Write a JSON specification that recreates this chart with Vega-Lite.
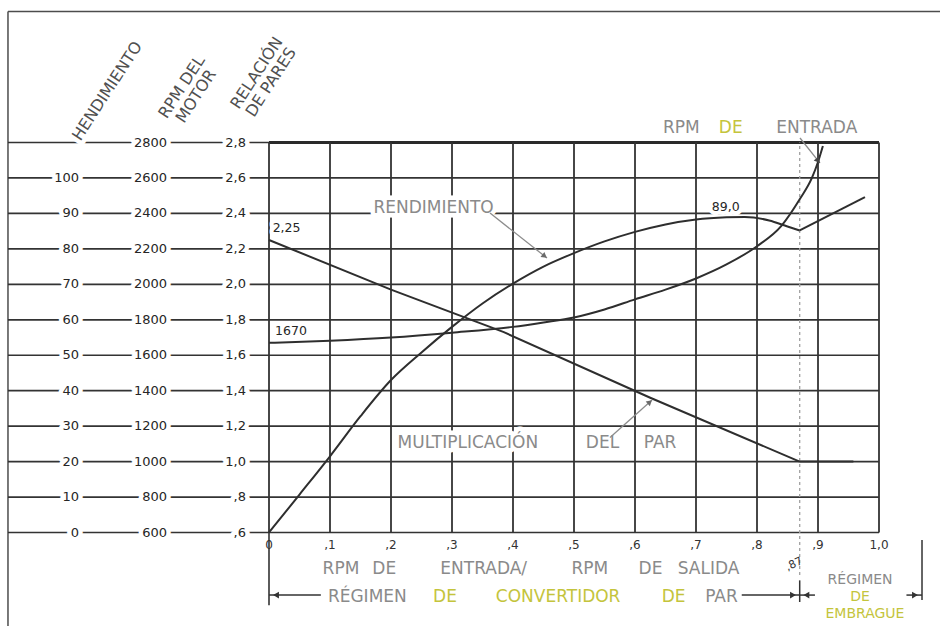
{
  "$schema": "https://vega.github.io/schema/vega-lite/v6.json",
  "width": 940,
  "height": 626,
  "padding": 0,
  "autosize": {"type": "none"},
  "background": "#ffffff",
  "config": {"view": {"stroke": null}, "text": {"font": "DejaVu Sans"}},
  "datasets": {
    "filas": [
      {"r": 0.6, "rend": "0", "rpm": "600", "rel": ",6"},
      {"r": 0.8, "rend": "10", "rpm": "800", "rel": ",8"},
      {"r": 1.0, "rend": "20", "rpm": "1000", "rel": "1,0"},
      {"r": 1.2, "rend": "30", "rpm": "1200", "rel": "1,2"},
      {"r": 1.4, "rend": "40", "rpm": "1400", "rel": "1,4"},
      {"r": 1.6, "rend": "50", "rpm": "1600", "rel": "1,6"},
      {"r": 1.8, "rend": "60", "rpm": "1800", "rel": "1,8"},
      {"r": 2.0, "rend": "70", "rpm": "2000", "rel": "2,0"},
      {"r": 2.2, "rend": "80", "rpm": "2200", "rel": "2,2"},
      {"r": 2.4, "rend": "90", "rpm": "2400", "rel": "2,4"},
      {"r": 2.6, "rend": "100", "rpm": "2600", "rel": "2,6"},
      {"r": 2.8, "rend": "", "rpm": "2800", "rel": "2,8"}
    ],
    "divisiones_x": [
      {"x": 0, "t": "0"}, {"x": 0.1, "t": ",1"}, {"x": 0.2, "t": ",2"},
      {"x": 0.3, "t": ",3"}, {"x": 0.4, "t": ",4"}, {"x": 0.5, "t": ",5"},
      {"x": 0.6, "t": ",6"}, {"x": 0.7, "t": ",7"}, {"x": 0.8, "t": ",8"},
      {"x": 0.9, "t": ",9"}, {"x": 1.0, "t": "1,0"}
    ],
    "titulos_ejes": [
      {"x": -0.265, "r": 3.09, "t": "HENDIMIENTO"},
      {"x": -0.143, "r": 3.113, "t": "RPM DEL\nMOTOR"},
      {"x": -0.02, "r": 3.192, "t": "RELACIÓN\nDE PARES"}
    ],
    "rotulos_grises": [
      {"x": 0.118, "r": 0.394, "t": "RPM"},
      {"x": 0.189, "r": 0.394, "t": "DE"},
      {"x": 0.352, "r": 0.394, "t": "ENTRADA/"},
      {"x": 0.526, "r": 0.394, "t": "RPM"},
      {"x": 0.6254, "r": 0.394, "t": "DE"},
      {"x": 0.7205, "r": 0.394, "t": "SALIDA"},
      {"x": 0.1612, "r": 0.238, "t": "RÉGIMEN"},
      {"x": 0.7418, "r": 0.238, "t": "PAR"},
      {"x": 0.676, "r": 2.882, "t": "RPM"},
      {"x": 0.898, "r": 2.882, "t": "ENTRADA"},
      {"x": 0.2697, "r": 2.43, "t": "RENDIMIENTO"},
      {"x": 0.326, "r": 1.105, "t": "MULTIPLICACIÓN"},
      {"x": 0.5467, "r": 1.105, "t": "DEL"},
      {"x": 0.641, "r": 1.105, "t": "PAR"}
    ],
    "rotulos_amarillos": [
      {"x": 0.2885, "r": 0.238, "t": "DE"},
      {"x": 0.474, "r": 0.238, "t": "CONVERTIDOR"},
      {"x": 0.6633, "r": 0.238, "t": "DE"},
      {"x": 0.757, "r": 2.882, "t": "DE"}
    ],
    "embrague_gris": [{"x": 0.969, "r": 0.33, "t": "RÉGIMEN"}],
    "embrague_amarillo": [
      {"x": 0.969, "r": 0.236, "t": "DE"},
      {"x": 0.977, "r": 0.142, "t": "EMBRAGUE"}
    ],
    "valores": [
      {"x": 0.006, "r": 2.318, "t": "2,25"},
      {"x": 0.01, "r": 1.735, "t": "1670"},
      {"x": 0.726, "r": 2.436, "t": "89,0"}
    ],
    "marca_087": [{"x": 0.861, "r": 0.421, "t": ",87"}],
    "corchete": [
      {"desde": 0, "hasta": 0.085},
      {"desde": 0.775, "hasta": 0.87},
      {"desde": 0.87, "hasta": 0.895},
      {"desde": 1.045, "hasta": 1.0705}
    ],
    "puntas": [
      {"x": 0.0115, "lado": "izquierda"},
      {"x": 0.859, "lado": "derecha"},
      {"x": 0.881, "lado": "izquierda"},
      {"x": 1.059, "lado": "derecha"}
    ],
    "flechas": [
      {"x": 0.3623, "r": 2.4023, "x2": 0.4557, "r2": 2.1485},
      {"x": 0.559, "r": 1.136, "x2": 0.628, "r2": 1.3475},
      {"x": 0.8705, "r": 2.8255, "x2": 0.9033, "r2": 2.684}
    ],
    "verticales": [
      {"x": 0}, {"x": 0.1}, {"x": 0.2}, {"x": 0.3}, {"x": 0.4}, {"x": 0.5},
      {"x": 0.6}, {"x": 0.7}, {"x": 0.8}, {"x": 0.9}, {"x": 1.0}
    ],
    "rendimiento": [
      {"x": 0, "rend": 0, "tramo": "convertidor"},
      {"x": 0.05, "rend": 10.7, "tramo": "convertidor"},
      {"x": 0.1, "rend": 21.5, "tramo": "convertidor"},
      {"x": 0.15, "rend": 32.8, "tramo": "convertidor"},
      {"x": 0.2, "rend": 43.0, "tramo": "convertidor"},
      {"x": 0.25, "rend": 50.8, "tramo": "convertidor"},
      {"x": 0.3, "rend": 58.0, "tramo": "convertidor"},
      {"x": 0.35, "rend": 64.6, "tramo": "convertidor"},
      {"x": 0.4, "rend": 70.2, "tramo": "convertidor"},
      {"x": 0.45, "rend": 75.0, "tramo": "convertidor"},
      {"x": 0.5, "rend": 78.8, "tramo": "convertidor"},
      {"x": 0.55, "rend": 82.1, "tramo": "convertidor"},
      {"x": 0.6, "rend": 84.8, "tramo": "convertidor"},
      {"x": 0.65, "rend": 86.9, "tramo": "convertidor"},
      {"x": 0.7, "rend": 88.3, "tramo": "convertidor"},
      {"x": 0.75, "rend": 88.9, "tramo": "convertidor"},
      {"x": 0.78, "rend": 89.0, "tramo": "convertidor"},
      {"x": 0.82, "rend": 88.0, "tramo": "convertidor"},
      {"x": 0.85, "rend": 86.3, "tramo": "convertidor"},
      {"x": 0.87, "rend": 85.2, "tramo": "convertidor"},
      {"x": 0.87, "rend": 85.2, "tramo": "embrague"},
      {"x": 0.977, "rend": 94.6, "tramo": "embrague"}
    ],
    "rpm_entrada": [
      {"x": 0, "rpm": 1670}, {"x": 0.1, "rpm": 1682}, {"x": 0.2, "rpm": 1700},
      {"x": 0.3, "rpm": 1727}, {"x": 0.4, "rpm": 1760}, {"x": 0.45, "rpm": 1785},
      {"x": 0.5, "rpm": 1813}, {"x": 0.55, "rpm": 1858}, {"x": 0.6, "rpm": 1915},
      {"x": 0.65, "rpm": 1970}, {"x": 0.7, "rpm": 2033}, {"x": 0.75, "rpm": 2112},
      {"x": 0.8, "rpm": 2215}, {"x": 0.84, "rpm": 2330}, {"x": 0.87, "rpm": 2480},
      {"x": 0.89, "rpm": 2600}, {"x": 0.9, "rpm": 2690}, {"x": 0.908, "rpm": 2780}
    ],
    "par": [
      {"x": 0, "r": 2.25, "tramo": "convertidor"},
      {"x": 0.2, "r": 1.97, "tramo": "convertidor"},
      {"x": 0.385, "r": 1.73, "tramo": "convertidor"},
      {"x": 0.625, "r": 1.36, "tramo": "convertidor"},
      {"x": 0.87, "r": 1.0, "tramo": "convertidor"},
      {"x": 0.87, "r": 1.0, "tramo": "embrague"},
      {"x": 0.958, "r": 1.0, "tramo": "embrague"}
    ]
  },
  "resolve": {"scale": {"y": "independent"}},
  "layer": [
    {
      "layer": [
        {
          "data": {"values": [{}]},
          "mark": {"type": "rule", "stroke": "#4d4d4d", "strokeWidth": 1.5},
          "encoding": {
            "x": {"datum": -0.4279, "type": "quantitative", "scale": {"domain": [-0.44098, 1.1], "nice": false, "zero": false}, "axis": null},
            "x2": {"datum": 1.1},
            "y": {"datum": 3.539, "type": "quantitative", "scale": {"domain": [0.07256, 3.60389], "nice": false, "zero": false}, "axis": null}
          }
        },
        {
          "data": {"values": [{}]},
          "mark": {"type": "rule", "stroke": "#4d4d4d", "strokeWidth": 1.5},
          "encoding": {
            "x": {"datum": -0.4279, "type": "quantitative", "scale": {"domain": [-0.44098, 1.1], "nice": false, "zero": false}, "axis": null},
            "y": {"datum": 0.07256, "type": "quantitative", "scale": {"domain": [0.07256, 3.60389], "nice": false, "zero": false}, "axis": null},
            "y2": {"datum": 3.539}
          }
        },
        {
          "data": {"name": "filas"},
          "mark": {"type": "rule", "stroke": "#333333", "strokeWidth": 1.7},
          "encoding": {
            "x": {"datum": -0.4279, "type": "quantitative", "scale": {"domain": [-0.44098, 1.1], "nice": false, "zero": false}, "axis": null},
            "x2": {"datum": 1.0},
            "y": {"field": "r", "type": "quantitative", "scale": {"domain": [0.07256, 3.60389], "nice": false, "zero": false}, "axis": null}
          }
        },
        {
          "data": {"values": [{}]},
          "mark": {"type": "rule", "stroke": "#2a2a2a", "strokeWidth": 3},
          "encoding": {
            "x": {"datum": 0, "type": "quantitative", "scale": {"domain": [-0.44098, 1.1], "nice": false, "zero": false}, "axis": null},
            "x2": {"datum": 1.0},
            "y": {"datum": 2.8, "type": "quantitative", "scale": {"domain": [0.07256, 3.60389], "nice": false, "zero": false}, "axis": null}
          }
        },
        {
          "data": {"name": "verticales"},
          "mark": {"type": "rule", "stroke": "#333333", "strokeWidth": 1.8},
          "encoding": {
            "x": {"field": "x", "type": "quantitative", "scale": {"domain": [-0.44098, 1.1], "nice": false, "zero": false}, "axis": null},
            "y": {"datum": 0.6, "type": "quantitative", "scale": {"domain": [0.07256, 3.60389], "nice": false, "zero": false}, "axis": null},
            "y2": {"datum": 2.8}
          }
        },
        {
          "data": {"values": [{}]},
          "mark": {"type": "rule", "stroke": "#333333", "strokeWidth": 1.6},
          "encoding": {
            "x": {"datum": 0, "type": "quantitative", "scale": {"domain": [-0.44098, 1.1], "nice": false, "zero": false}, "axis": null},
            "y": {"datum": 0.19, "type": "quantitative", "scale": {"domain": [0.07256, 3.60389], "nice": false, "zero": false}, "axis": null},
            "y2": {"datum": 0.6}
          }
        },
        {
          "data": {"values": [{}]},
          "mark": {"type": "rule", "stroke": "#a0a0a0", "strokeWidth": 1.3, "strokeDash": [3, 3]},
          "encoding": {
            "x": {"datum": 0.87, "type": "quantitative", "scale": {"domain": [-0.44098, 1.1], "nice": false, "zero": false}, "axis": null},
            "y": {"datum": 0.36, "type": "quantitative", "scale": {"domain": [0.07256, 3.60389], "nice": false, "zero": false}, "axis": null},
            "y2": {"datum": 2.8}
          }
        },
        {
          "data": {"values": [{}]},
          "mark": {"type": "rule", "stroke": "#333333", "strokeWidth": 1.5},
          "encoding": {
            "x": {"datum": 0.87, "type": "quantitative", "scale": {"domain": [-0.44098, 1.1], "nice": false, "zero": false}, "axis": null},
            "y": {"datum": 0.208, "type": "quantitative", "scale": {"domain": [0.07256, 3.60389], "nice": false, "zero": false}, "axis": null},
            "y2": {"datum": 0.33}
          }
        },
        {
          "data": {"values": [{}]},
          "mark": {"type": "rule", "stroke": "#333333", "strokeWidth": 1.5},
          "encoding": {
            "x": {"datum": 1.0705, "type": "quantitative", "scale": {"domain": [-0.44098, 1.1], "nice": false, "zero": false}, "axis": null},
            "y": {"datum": 0.219, "type": "quantitative", "scale": {"domain": [0.07256, 3.60389], "nice": false, "zero": false}, "axis": null},
            "y2": {"datum": 0.557}
          }
        },
        {
          "data": {"name": "corchete"},
          "mark": {"type": "rule", "stroke": "#333333", "strokeWidth": 1.5},
          "encoding": {
            "x": {"field": "desde", "type": "quantitative", "scale": {"domain": [-0.44098, 1.1], "nice": false, "zero": false}, "axis": null},
            "x2": {"field": "hasta"},
            "y": {"datum": 0.247, "type": "quantitative", "scale": {"domain": [0.07256, 3.60389], "nice": false, "zero": false}, "axis": null}
          }
        },
        {
          "data": {"name": "filas"},
          "mark": {"type": "text", "align": "right", "baseline": "middle", "fontSize": 13, "fill": "#ffffff", "stroke": "#ffffff", "strokeWidth": 9, "strokeJoin": "round"},
          "encoding": {
            "x": {"datum": -0.3115, "type": "quantitative", "scale": {"domain": [-0.44098, 1.1], "nice": false, "zero": false}, "axis": null},
            "y": {"field": "r", "type": "quantitative", "scale": {"domain": [0.07256, 3.60389], "nice": false, "zero": false}, "axis": null},
            "text": {"field": "rend"}
          }
        },
        {
          "data": {"name": "filas"},
          "mark": {"type": "text", "align": "right", "baseline": "middle", "fontSize": 13, "fill": "#ffffff", "stroke": "#ffffff", "strokeWidth": 9, "strokeJoin": "round"},
          "encoding": {
            "x": {"datum": -0.1672, "type": "quantitative", "scale": {"domain": [-0.44098, 1.1], "nice": false, "zero": false}, "axis": null},
            "y": {"field": "r", "type": "quantitative", "scale": {"domain": [0.07256, 3.60389], "nice": false, "zero": false}, "axis": null},
            "text": {"field": "rpm"}
          }
        },
        {
          "data": {"name": "filas"},
          "mark": {"type": "text", "align": "right", "baseline": "middle", "fontSize": 13, "fill": "#ffffff", "stroke": "#ffffff", "strokeWidth": 9, "strokeJoin": "round"},
          "encoding": {
            "x": {"datum": -0.0377, "type": "quantitative", "scale": {"domain": [-0.44098, 1.1], "nice": false, "zero": false}, "axis": null},
            "y": {"field": "r", "type": "quantitative", "scale": {"domain": [0.07256, 3.60389], "nice": false, "zero": false}, "axis": null},
            "text": {"field": "rel"}
          }
        },
        {
          "data": {"name": "titulos_ejes"},
          "mark": {"type": "text", "align": "center", "baseline": "middle", "fontSize": 16, "angle": -57, "lineBreak": "\n", "lineHeight": 17, "fill": "#ffffff", "stroke": "#ffffff", "strokeWidth": 9, "strokeJoin": "round"},
          "encoding": {
            "x": {"field": "x", "type": "quantitative", "scale": {"domain": [-0.44098, 1.1], "nice": false, "zero": false}, "axis": null},
            "y": {"field": "r", "type": "quantitative", "scale": {"domain": [0.07256, 3.60389], "nice": false, "zero": false}, "axis": null},
            "text": {"field": "t"}
          }
        },
        {
          "data": {"name": "rotulos_grises"},
          "mark": {"type": "text", "align": "center", "baseline": "middle", "fontSize": 17, "fill": "#ffffff", "stroke": "#ffffff", "strokeWidth": 9, "strokeJoin": "round"},
          "encoding": {
            "x": {"field": "x", "type": "quantitative", "scale": {"domain": [-0.44098, 1.1], "nice": false, "zero": false}, "axis": null},
            "y": {"field": "r", "type": "quantitative", "scale": {"domain": [0.07256, 3.60389], "nice": false, "zero": false}, "axis": null},
            "text": {"field": "t"}
          }
        },
        {
          "data": {"name": "valores"},
          "mark": {"type": "text", "align": "left", "baseline": "middle", "fontSize": 12.5, "fill": "#ffffff", "stroke": "#ffffff", "strokeWidth": 8, "strokeJoin": "round"},
          "encoding": {
            "x": {"field": "x", "type": "quantitative", "scale": {"domain": [-0.44098, 1.1], "nice": false, "zero": false}, "axis": null},
            "y": {"field": "r", "type": "quantitative", "scale": {"domain": [0.07256, 3.60389], "nice": false, "zero": false}, "axis": null},
            "text": {"field": "t"}
          }
        }
      ]
    },
    {
      "data": {"name": "rendimiento"},
      "mark": {"type": "line", "stroke": "#2e2e2e", "strokeWidth": 2, "interpolate": "monotone"},
      "encoding": {
        "x": {"field": "x", "type": "quantitative", "scale": {"domain": [-0.44098, 1.1], "nice": false, "zero": false}, "axis": null},
        "y": {"field": "rend", "type": "quantitative", "scale": {"domain": [-26.372, 150.1945], "nice": false, "zero": false}, "axis": null},
        "detail": {"field": "tramo"}
      }
    },
    {
      "data": {"name": "rpm_entrada"},
      "mark": {"type": "line", "stroke": "#2e2e2e", "strokeWidth": 2, "interpolate": "monotone"},
      "encoding": {
        "x": {"field": "x", "type": "quantitative", "scale": {"domain": [-0.44098, 1.1], "nice": false, "zero": false}, "axis": null},
        "y": {"field": "rpm", "type": "quantitative", "scale": {"domain": [72.56, 3603.89], "nice": false, "zero": false}, "axis": null}
      }
    },
    {
      "layer": [
        {
          "data": {"name": "par"},
          "mark": {"type": "line", "stroke": "#2e2e2e", "strokeWidth": 2},
          "encoding": {
            "x": {"field": "x", "type": "quantitative", "scale": {"domain": [-0.44098, 1.1], "nice": false, "zero": false}, "axis": null},
            "y": {"field": "r", "type": "quantitative", "scale": {"domain": [0.07256, 3.60389], "nice": false, "zero": false}, "axis": null},
            "detail": {"field": "tramo"}
          }
        },
        {
          "data": {"name": "flechas"},
          "mark": {"type": "rule", "stroke": "#8c8c8c", "strokeWidth": 1.3},
          "encoding": {
            "x": {"field": "x", "type": "quantitative", "scale": {"domain": [-0.44098, 1.1], "nice": false, "zero": false}, "axis": null},
            "y": {"field": "r", "type": "quantitative", "scale": {"domain": [0.07256, 3.60389], "nice": false, "zero": false}, "axis": null},
            "x2": {"field": "x2"},
            "y2": {"field": "r2"}
          }
        },
        {
          "data": {"values": [{}]},
          "mark": {"type": "point", "shape": "triangle-up", "filled": true, "size": 40, "color": "#6a6a6a", "opacity": 1, "angle": 128},
          "encoding": {
            "x": {"datum": 0.4518, "type": "quantitative", "scale": {"domain": [-0.44098, 1.1], "nice": false, "zero": false}, "axis": null},
            "y": {"datum": 2.159, "type": "quantitative", "scale": {"domain": [0.07256, 3.60389], "nice": false, "zero": false}, "axis": null}
          }
        },
        {
          "data": {"values": [{}]},
          "mark": {"type": "point", "shape": "triangle-up", "filled": true, "size": 40, "color": "#6a6a6a", "opacity": 1, "angle": 49},
          "encoding": {
            "x": {"datum": 0.6243, "type": "quantitative", "scale": {"domain": [-0.44098, 1.1], "nice": false, "zero": false}, "axis": null},
            "y": {"datum": 1.3363, "type": "quantitative", "scale": {"domain": [0.07256, 3.60389], "nice": false, "zero": false}, "axis": null}
          }
        },
        {
          "data": {"values": [{}]},
          "mark": {"type": "point", "shape": "triangle-up", "filled": true, "size": 45, "color": "#444444", "opacity": 1, "angle": 141},
          "encoding": {
            "x": {"datum": 0.9002, "type": "quantitative", "scale": {"domain": [-0.44098, 1.1], "nice": false, "zero": false}, "axis": null},
            "y": {"datum": 2.697, "type": "quantitative", "scale": {"domain": [0.07256, 3.60389], "nice": false, "zero": false}, "axis": null}
          }
        },
        {
          "data": {"name": "puntas"},
          "mark": {"type": "point", "filled": true, "size": 45, "color": "#333333", "opacity": 1},
          "encoding": {
            "x": {"field": "x", "type": "quantitative", "scale": {"domain": [-0.44098, 1.1], "nice": false, "zero": false}, "axis": null},
            "y": {"datum": 0.247, "type": "quantitative", "scale": {"domain": [0.07256, 3.60389], "nice": false, "zero": false}, "axis": null},
            "shape": {"field": "lado", "type": "nominal", "scale": {"domain": ["izquierda", "derecha"], "range": ["triangle-left", "triangle-right"]}, "legend": null}
          }
        },
        {
          "data": {"name": "filas"},
          "mark": {"type": "text", "align": "right", "baseline": "middle", "fontSize": 13, "fill": "#262626"},
          "encoding": {
            "x": {"datum": -0.3115, "type": "quantitative", "scale": {"domain": [-0.44098, 1.1], "nice": false, "zero": false}, "axis": null},
            "y": {"field": "r", "type": "quantitative", "scale": {"domain": [0.07256, 3.60389], "nice": false, "zero": false}, "axis": null},
            "text": {"field": "rend"}
          }
        },
        {
          "data": {"name": "filas"},
          "mark": {"type": "text", "align": "right", "baseline": "middle", "fontSize": 13, "fill": "#262626"},
          "encoding": {
            "x": {"datum": -0.1672, "type": "quantitative", "scale": {"domain": [-0.44098, 1.1], "nice": false, "zero": false}, "axis": null},
            "y": {"field": "r", "type": "quantitative", "scale": {"domain": [0.07256, 3.60389], "nice": false, "zero": false}, "axis": null},
            "text": {"field": "rpm"}
          }
        },
        {
          "data": {"name": "filas"},
          "mark": {"type": "text", "align": "right", "baseline": "middle", "fontSize": 13, "fill": "#262626"},
          "encoding": {
            "x": {"datum": -0.0377, "type": "quantitative", "scale": {"domain": [-0.44098, 1.1], "nice": false, "zero": false}, "axis": null},
            "y": {"field": "r", "type": "quantitative", "scale": {"domain": [0.07256, 3.60389], "nice": false, "zero": false}, "axis": null},
            "text": {"field": "rel"}
          }
        },
        {
          "data": {"name": "titulos_ejes"},
          "mark": {"type": "text", "align": "center", "baseline": "middle", "fontSize": 16, "angle": -57, "lineBreak": "\n", "lineHeight": 17, "fill": "#505050"},
          "encoding": {
            "x": {"field": "x", "type": "quantitative", "scale": {"domain": [-0.44098, 1.1], "nice": false, "zero": false}, "axis": null},
            "y": {"field": "r", "type": "quantitative", "scale": {"domain": [0.07256, 3.60389], "nice": false, "zero": false}, "axis": null},
            "text": {"field": "t"}
          }
        },
        {
          "data": {"name": "divisiones_x"},
          "mark": {"type": "text", "align": "center", "baseline": "middle", "fontSize": 12, "fill": "#333333"},
          "encoding": {
            "x": {"field": "x", "type": "quantitative", "scale": {"domain": [-0.44098, 1.1], "nice": false, "zero": false}, "axis": null},
            "y": {"datum": 0.5295, "type": "quantitative", "scale": {"domain": [0.07256, 3.60389], "nice": false, "zero": false}, "axis": null},
            "text": {"field": "t"}
          }
        },
        {
          "data": {"name": "rotulos_grises"},
          "mark": {"type": "text", "align": "center", "baseline": "middle", "fontSize": 17, "fill": "#8a8a8a"},
          "encoding": {
            "x": {"field": "x", "type": "quantitative", "scale": {"domain": [-0.44098, 1.1], "nice": false, "zero": false}, "axis": null},
            "y": {"field": "r", "type": "quantitative", "scale": {"domain": [0.07256, 3.60389], "nice": false, "zero": false}, "axis": null},
            "text": {"field": "t"}
          }
        },
        {
          "data": {"name": "rotulos_amarillos"},
          "mark": {"type": "text", "align": "center", "baseline": "middle", "fontSize": 17, "fill": "#c4c43c"},
          "encoding": {
            "x": {"field": "x", "type": "quantitative", "scale": {"domain": [-0.44098, 1.1], "nice": false, "zero": false}, "axis": null},
            "y": {"field": "r", "type": "quantitative", "scale": {"domain": [0.07256, 3.60389], "nice": false, "zero": false}, "axis": null},
            "text": {"field": "t"}
          }
        },
        {
          "data": {"name": "embrague_gris"},
          "mark": {"type": "text", "align": "center", "baseline": "middle", "fontSize": 14, "fill": "#8a8a8a"},
          "encoding": {
            "x": {"field": "x", "type": "quantitative", "scale": {"domain": [-0.44098, 1.1], "nice": false, "zero": false}, "axis": null},
            "y": {"field": "r", "type": "quantitative", "scale": {"domain": [0.07256, 3.60389], "nice": false, "zero": false}, "axis": null},
            "text": {"field": "t"}
          }
        },
        {
          "data": {"name": "embrague_amarillo"},
          "mark": {"type": "text", "align": "center", "baseline": "middle", "fontSize": 14, "fill": "#c4c43c"},
          "encoding": {
            "x": {"field": "x", "type": "quantitative", "scale": {"domain": [-0.44098, 1.1], "nice": false, "zero": false}, "axis": null},
            "y": {"field": "r", "type": "quantitative", "scale": {"domain": [0.07256, 3.60389], "nice": false, "zero": false}, "axis": null},
            "text": {"field": "t"}
          }
        },
        {
          "data": {"name": "valores"},
          "mark": {"type": "text", "align": "left", "baseline": "middle", "fontSize": 12.5, "fill": "#262626"},
          "encoding": {
            "x": {"field": "x", "type": "quantitative", "scale": {"domain": [-0.44098, 1.1], "nice": false, "zero": false}, "axis": null},
            "y": {"field": "r", "type": "quantitative", "scale": {"domain": [0.07256, 3.60389], "nice": false, "zero": false}, "axis": null},
            "text": {"field": "t"}
          }
        },
        {
          "data": {"name": "marca_087"},
          "mark": {"type": "text", "align": "center", "baseline": "middle", "fontSize": 11, "angle": -25, "fill": "#333333"},
          "encoding": {
            "x": {"field": "x", "type": "quantitative", "scale": {"domain": [-0.44098, 1.1], "nice": false, "zero": false}, "axis": null},
            "y": {"field": "r", "type": "quantitative", "scale": {"domain": [0.07256, 3.60389], "nice": false, "zero": false}, "axis": null},
            "text": {"field": "t"}
          }
        }
      ]
    }
  ]
}
